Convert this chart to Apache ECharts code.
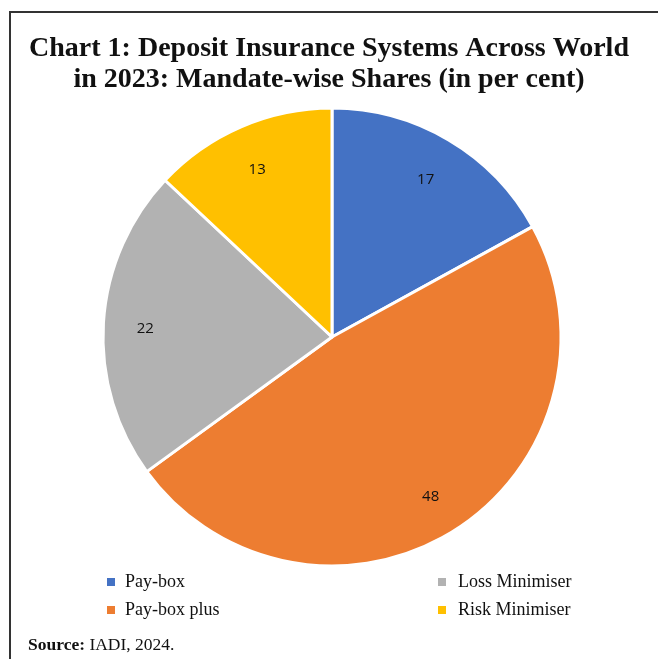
<!DOCTYPE html>
<html><head><meta charset="utf-8">
<script src="https://cdn.jsdelivr.net/npm/echarts@6/dist/echarts.min.js"></script>
<style>html,body{margin:0;padding:0;background:#fff;}#c{width:658px;height:659px;}</style>
</head><body><div id="c"></div>
<script>
const categories = ['Pay-box', 'Pay-box plus', 'Loss Minimiser', 'Risk Minimiser'];
const shares = [17, 48, 22, 13];
const colors = ['#4472C4', '#ED7D31', '#B2B2B2', '#FFC000'];
const titleText = 'Chart 1: Deposit Insurance Systems Across World\nin 2023: Mandate-wise Shares (in per cent)';

const chart = echarts.init(document.getElementById('c'), null, {renderer: 'canvas'});
const data = categories.map((n, i) => ({name: n, value: shares[i], itemStyle: {color: colors[i]}}));
const labelData = categories.map((n, i) => ({name: n, value: shares[i]}));
chart.setOption({
  animation: false,
  title: {
    text: titleText, left: 'center', top: 28,
    textStyle: {fontFamily: 'Liberation Serif', fontWeight: 'bold', fontSize: 28, lineHeight: 31, color: '#111'}
  },
  legend: [
    {data: categories.slice(0, 2), left: 100, top: 568, orient: 'vertical', itemGap: 10, itemWidth: 10, itemHeight: 10, icon: 'rect',
     textStyle: {fontFamily: 'Liberation Serif', fontSize: 18, color: '#111', padding: [0, 0, 0, 4]}, selectedMode: false},
    {data: categories.slice(2), left: 431, top: 568, orient: 'vertical', itemGap: 10, itemWidth: 10, itemHeight: 10, icon: 'rect',
     textStyle: {fontFamily: 'Liberation Serif', fontSize: 18, color: '#111', padding: [0, 0, 0, 6]}, selectedMode: false}
  ],
  graphic: [
    {type: 'rect', shape: {x: 10, y: 12, width: 700, height: 700}, style: {fill: 'none', stroke: '#333', lineWidth: 2}, silent: true},
    {type: 'text', left: 28, top: 636, style: {text: '{b|Source:} IADI, 2024.', rich: {b: {fontWeight: 'bold', fontFamily: 'Liberation Serif', fontSize: 17.5, fill: '#111'}}, fontFamily: 'Liberation Serif', fontSize: 17.5, fill: '#111'}}
  ],
  series: [
    {type: 'pie', center: [332, 337], radius: [0, 229], startAngle: 90, clockwise: true, data: data,
     itemStyle: {borderColor: '#fff', borderWidth: 3}, label: {show: false}, labelLine: {show: false}, silent: true},
    {type: 'pie', center: [331, 340], radius: [0, 366], startAngle: 90, clockwise: true, data: labelData,
     itemStyle: {color: 'rgba(0,0,0,0)', borderWidth: 0}, silent: true, z: 5,
     label: {show: true, position: 'inside', formatter: '{c}', fontFamily: 'Open Sans', fontSize: 15, color: '#111'}, labelLine: {show: false}}
  ]
});
</script></body></html>
